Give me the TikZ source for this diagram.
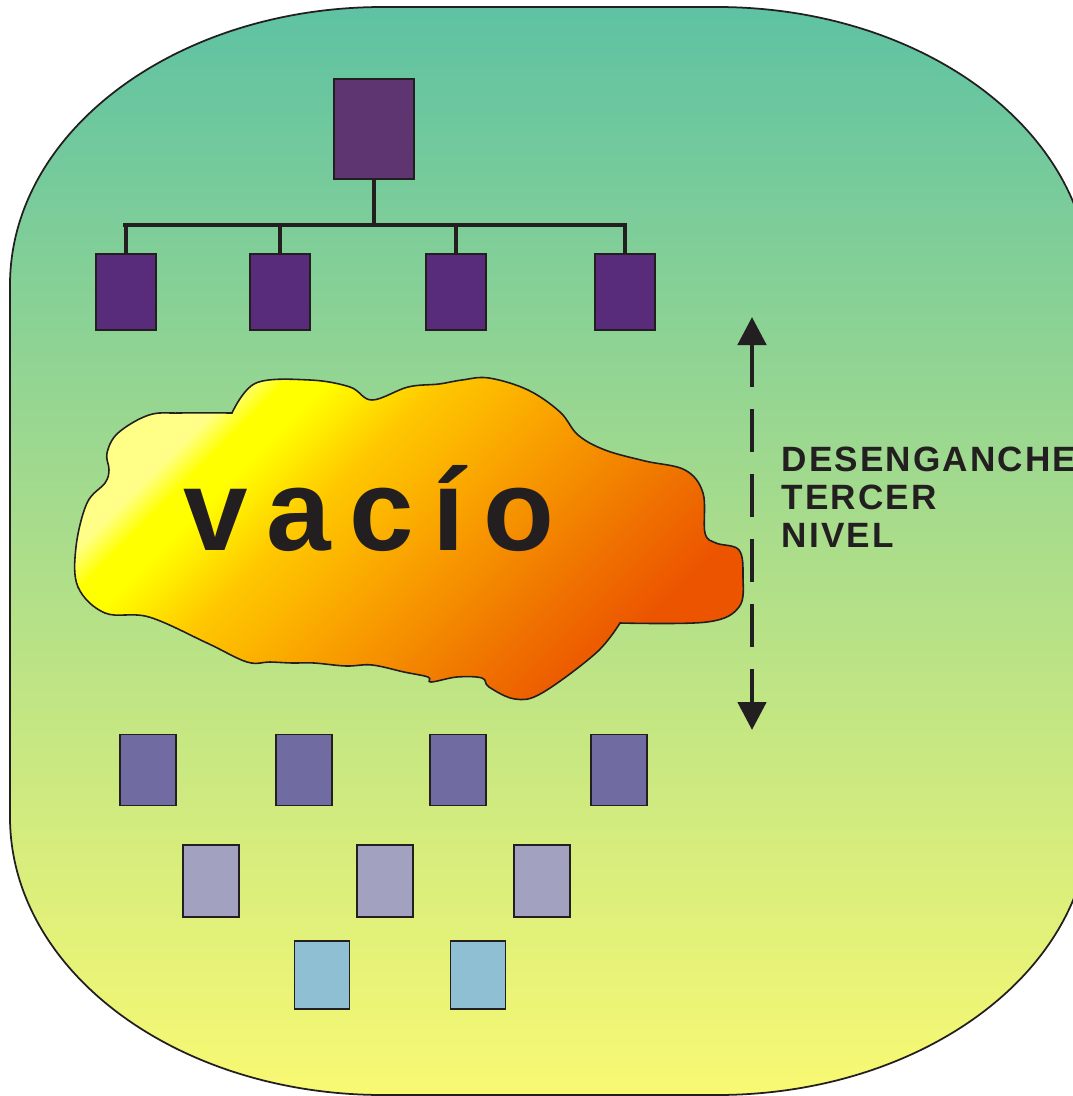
\documentclass[tikz,border=0pt]{standalone}
\usepackage{fontspec}
\usetikzlibrary{positioning,arrows.meta}
\newfontfamily\tagfont[LetterSpace=6]{Liberation Sans}
\newfontfamily\voidfont[LetterSpace=16]{Liberation Sans}
\definecolor{ink}{HTML}{231F20}
\definecolor{bgtop}{HTML}{5EC2A3}
\definecolor{bgbot}{HTML}{F9F972}
\definecolor{bossfill}{HTML}{5E3571}
\definecolor{deptfill}{HTML}{582C7A}
\definecolor{rowa}{HTML}{706CA2}
\definecolor{rowb}{HTML}{A2A2C0}
\definecolor{rowc}{HTML}{8FBFD3}
\definecolor{cl0}{HTML}{FFFF88}
\definecolor{cl1}{HTML}{FFFF00}
\definecolor{cl2}{HTML}{FFC800}
\definecolor{cl3}{HTML}{F9A000}
\definecolor{cl4}{HTML}{F07800}
\definecolor{cl5}{HTML}{EC5400}
\pgfdeclarehorizontalshading{cloudfill}{100bp}{color(0bp)=(cl0); color(27bp)=(cl0); color(30bp)=(cl1); color(33bp)=(cl1); color(41bp)=(cl2); color(52bp)=(cl3); color(63bp)=(cl4); color(73bp)=(cl5); color(100bp)=(cl5)}
\tikzset{%
frame/.style={draw=ink,line width=0.5pt,shade,shading=axis,top color=bgtop,bottom color=bgbot},
org/.style={draw=ink,line width=0.5pt,rectangle,inner sep=0},
boss/.style={org,fill=bossfill,minimum width=8mm,minimum height=10mm},
dept/.style={org,fill=deptfill,minimum width=6mm,minimum height=7.6mm},
levela/.style={org,fill=rowa,minimum width=5.6mm,minimum height=7.1mm},
levelb/.style={org,fill=rowb,minimum width=5.6mm,minimum height=7.2mm},
levelc/.style={org,fill=rowc,minimum width=5.5mm,minimum height=6.8mm},
bar/.style={draw=ink,line width=1.4pt},
twig/.style={draw=ink,line width=1pt},
cloud/.style={draw=ink,line width=0.45pt,shade,shading=cloudfill,shading angle=-45},
voidtxt/.style={font=\voidfont\bfseries\fontsize{33}{33}\selectfont,text=ink,inner sep=0},
tag/.style={font=\tagfont\bfseries\fontsize{10}{10.8}\selectfont,text=ink,align=left,inner sep=0},
dimline/.style={draw=ink,line width=1.4pt,dash pattern=on 4.3mm off 2.2mm,
  {Triangle[length=2.8mm,width=2.8mm]}-{Triangle[length=2.8mm,width=2.8mm]}}
}
\begin{document}
\begin{tikzpicture}[x=0.1mm,y=-0.1mm]
  \useasboundingbox (0,0) rectangle (1073,1096);

  % background
  \path[frame] (10,285) .. controls (10,131) and (177,7) .. (383,7) -- (717,7)
     .. controls (923,7) and (1090,131) .. (1090,285) -- (1090,817)
     .. controls (1090,971) and (923,1095) .. (717,1095) -- (383,1095)
     .. controls (177,1095) and (10,971) .. (10,817) -- cycle;

  % tree
  \node[boss] (top) at (374,129) {};
  \node[dept] (d1) at (126,292) {};
  \node[dept] (d2) at (280,292) {};
  \node[dept] (d3) at (456,292) {};
  \node[dept] (d4) at (625,292) {};

  \coordinate (barl) at (123,225);
  \coordinate (barr) at (627,225);
  \draw[bar] (barl) -- (barr);
  \draw[twig] (top) -- (top |- barl);
  \foreach \i in {1,...,4}
    \draw[twig] (d\i) -- (d\i |- barl);

  % lower levels
  \node[levela] (a1) at (148,770) {};
  \node[levela] (a2) at (304,770) {};
  \node[levela] (a3) at (458,770) {};
  \node[levela] (a4) at (619,770) {};

  \node[levelb] (b1) at (211,881) {};
  \node[levelb] (b2) at (385,881) {};
  \node[levelb] (b3) at (542,881) {};

  \node[levelc] (c1) at (322,975) {};
  \node[levelc] (c2) at (478,975) {};

  % cloud
  \path[cloud] plot[smooth,tension=0.6] coordinates {(232,413) (256,383) (310,380)
      (350,387) (372,400) (408,387) (439,384) (462,380) (489,378) (528,390)
      (560,412) (578,435) (605,450) (645,461) (685,470) (703,493) (705,533)
      (716,543) (739,550) (743,577) (739,607) (707,622) (620,623)}
    -- plot[smooth,tension=0.6] coordinates {(620,623) (596,653) (542,693)
      (515,699) (489,687) (482,678) (457,677) (431,682) (428,677) (404,672)
      (372,665) (346,666) (314,663) (292,663) (270,662) (247,662) (207,643)
      (149,617) (105,613) (78,587) (76,547) (87,503) (105,483) (109,470)
      (107,453) (118,433) (149,415) (180,413) (232,413)} -- cycle;
  \node[voidtxt,anchor=base west] (void) at (183,550) {vacío};

  % arrow and label
  \coordinate (hi) at (752,317);
  \coordinate (lo) at (752,730);
  \draw[dimline] (hi) -- (lo);
  \node[tag,anchor=north west] (lbl) at (781,446) {DESENGANCHE\\TERCER\\NIVEL};

\end{tikzpicture}
\end{document}
